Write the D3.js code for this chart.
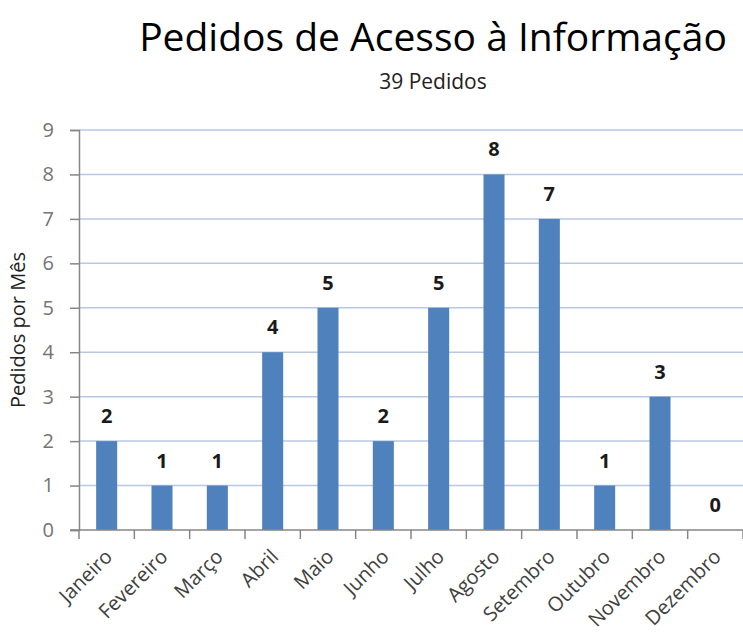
<!DOCTYPE html>
<html>
<head>
<meta charset="utf-8">
<script src="https://cdn.jsdelivr.net/npm/d3@7"></script>
<style>
  body { margin: 0; background: #fff; }
  text { font-family: "Open Sans", "DejaVu Sans", sans-serif; }
</style>
</head>
<body>
<svg width="743" height="637"></svg>
<script>
var meses = ["Janeiro", "Fevereiro", "Março", "Abril", "Maio", "Junho",
  "Julho", "Agosto", "Setembro", "Outubro", "Novembro", "Dezembro"];
var pedidos = [2, 1, 1, 4, 5, 2, 5, 8, 7, 1, 3, 0];
var yTicks = [0, 1, 2, 3, 4, 5, 6, 7, 8, 9];

var titulo = "Pedidos de Acesso à Informação";
var subtitulo = "39 Pedidos";
var eixoY = "Pedidos por Mês";

var svg = d3.select("svg");
var mLeft = 79, mRight = 743, mTop = 130, mBottom = 530;

var x = d3.scaleBand().domain(meses).range([mLeft, mRight]).paddingInner(0.62).paddingOuter(0.31);
var y = d3.scaleLinear().domain([0, 9]).range([mBottom, mTop]);

// grid
svg.append("g")
  .selectAll("line")
  .data(yTicks.filter(function(d) { return d > 0; }))
  .enter().append("line")
  .attr("x1", mLeft)
  .attr("x2", mRight)
  .attr("y1", function(d) { return y(d); })
  .attr("y2", function(d) { return y(d); })
  .attr("stroke", "#b8c8e4")
  .attr("stroke-width", 1.5);

// bars
svg.append("g")
  .selectAll("rect")
  .data(pedidos)
  .enter().append("rect")
  .attr("x", function(d, i) { return x(meses[i]); })
  .attr("width", x.bandwidth())
  .attr("y", function(d) { return y(d); })
  .attr("height", function(d) { return mBottom - y(d); })
  .attr("fill", "#4f81bd");

// y axis
var yAxis = svg.append("g")
  .attr("transform", "translate(" + mLeft + ",0)")
  .call(d3.axisLeft(y).tickValues(yTicks).tickSize(9).tickPadding(16).tickFormat(d3.format("d")));
yAxis.select(".domain").attr("stroke", "#868686").attr("stroke-width", 1.5);
yAxis.selectAll(".tick line").attr("stroke", "#868686").attr("stroke-width", 1.5);
yAxis.selectAll(".tick text")
  .attr("font-size", 20)
  .attr("fill", "#747474")
  .style("font-family", "'Open Sans', sans-serif");

// x axis
var band = (mRight - mLeft) / meses.length;
var xAxisG = svg.append("g").attr("transform", "translate(0," + mBottom + ")");
xAxisG.append("line")
  .attr("x1", mLeft - 9).attr("x2", mRight)
  .attr("stroke", "#868686").attr("stroke-width", 1.5);
xAxisG.selectAll("line.tk")
  .data(d3.range(meses.length + 1))
  .enter().append("line")
  .attr("class", "tk")
  .attr("x1", function(i) { return mLeft + i * band; })
  .attr("x2", function(i) { return mLeft + i * band; })
  .attr("y1", 0).attr("y2", 9)
  .attr("stroke", "#868686").attr("stroke-width", 1.5);
xAxisG.selectAll("text")
  .data(meses)
  .enter().append("text")
  .attr("transform", function(d) {
    var cx = x(d) + x.bandwidth() / 2 - 3;
    return "translate(" + cx + ",18) rotate(-45)";
  })
  .attr("text-anchor", "end")
  .attr("dy", "0.7em")
  .attr("font-size", 20)
  .attr("fill", "#404040")
  .text(function(d) { return d; });

// value labels
svg.append("g")
  .selectAll("text")
  .data(pedidos)
  .enter().append("text")
  .attr("x", function(d, i) { return x(meses[i]) + x.bandwidth() / 2; })
  .attr("y", function(d) { return y(d) - 18; })
  .attr("text-anchor", "middle")
  .attr("font-size", 20)
  .attr("font-weight", "bold")
  .attr("fill", "#1a1a1a")
  .text(function(d) { return d; });

// titles
svg.append("text")
  .attr("x", 433).attr("y", 51)
  .attr("text-anchor", "middle")
  .attr("font-size", 39)
  .attr("fill", "#000")
  .text(titulo);
svg.append("text")
  .attr("x", 433).attr("y", 89)
  .attr("text-anchor", "middle")
  .attr("font-size", 21)
  .attr("fill", "#222")
  .text(subtitulo);
svg.append("text")
  .attr("transform", "translate(25,330) rotate(-90)")
  .attr("text-anchor", "middle")
  .attr("font-size", 20)
  .attr("fill", "#222")
  .text(eixoY);
</script>
</body>
</html>
